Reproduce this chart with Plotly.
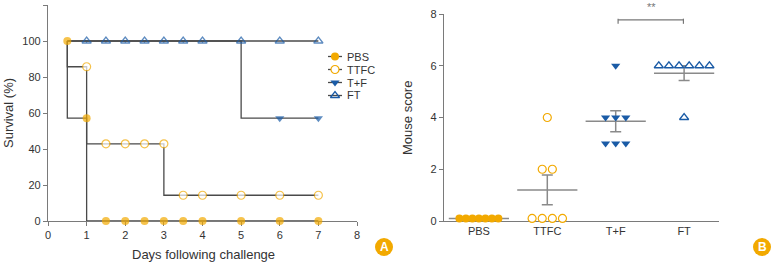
import numpy as np
import plotly.graph_objects as go

# ---------------- Panel A data: survival ----------------
days = [0.5, 1, 1.5, 2, 2.5, 3, 3.5, 4, 5, 6, 7]
surv_pbs = [100, 57.1, 0, 0, 0, 0, 0, 0, 0, 0, 0]
surv_ttfc = [100, 85.7, 42.9, 42.9, 42.9, 42.9, 14.3, 14.3, 14.3, 14.3, 14.3]
surv_tf = [100, 100, 100, 100, 100, 100, 100, 100, 100, 57.1, 57.1]
surv_ft = [100, 100, 100, 100, 100, 100, 100, 100, 100, 100, 100]
x_ticks_a = [0, 1, 2, 3, 4, 5, 6, 7, 8]
y_ticks_a = [0, 20, 40, 60, 80, 100, 120]

# ---------------- Panel B data: mouse scores ----------------
groups = ["PBS", "TTFC", "T+F", "FT"]
score_pbs = [0.1, 0.1, 0.1, 0.1, 0.1, 0.1, 0.1]
score_ttfc = [0.1, 0.1, 0.1, 0.1, 2, 2, 4]
score_tf = [6, 4, 4, 4, 3, 3, 3]
score_ft = [6, 6, 6, 6, 6, 6, 4]
y_ticks_b = [0, 2, 4, 6, 8]

ORANGE = "#F2A900"
BLUE = "#1A5BA6"
LINE = "#4a4a4a"
AXIS = "#7a7a7a"
TXT = "#333333"
FONT = "Liberation Sans"

W, H = 772, 263
def px_x(p):
    return p / W
def px_y(p):
    return 1 - p / H

MK = {
    "PBS": dict(symbol="circle", color=ORANGE, line=dict(width=0, color=ORANGE), size=8),
    "TTFC": dict(symbol="circle", color="white", line=dict(color=ORANGE, width=1.2), size=8),
    "T+F": dict(symbol="triangle-down", color=BLUE, line=dict(width=0, color=BLUE), size=8),
    "FT": dict(symbol="triangle-up", color="rgba(255,255,255,0)", line=dict(color=BLUE, width=1.3), size=8),
}

fig = go.Figure()

# ---- Panel A traces ----
series_a = [("T+F", surv_tf), ("FT", surv_ft), ("TTFC", surv_ttfc), ("PBS", surv_pbs)]
for name, vals in series_a:
    mk = dict(MK[name])
    sizes = [mk["size"]] * len(days)
    if name != "PBS":
        sizes[0] = 0
    if name == "T+F":
        sizes = [0 if i == 0 else (4 if surv_ft[i] == v else mk["size"])
                 for i, v in enumerate(vals)]
    mk["size"] = sizes
    fig.add_trace(go.Scatter(
        x=days, y=vals, name=name, mode="lines+markers",
        line=dict(color=LINE, width=1.3, shape="vh"),
        marker=mk, xaxis="x", yaxis="y", showlegend=False,
        cliponaxis=False,
    ))

# ---- custom legend (compact rows) ----
for i, name in enumerate(groups):
    fig.add_trace(go.Scatter(
        x=[0, 1], y=[i, i], mode="lines", line=dict(color=LINE, width=1.3),
        xaxis="x3", yaxis="y3", showlegend=False, hoverinfo="skip", cliponaxis=False))
    fig.add_trace(go.Scatter(
        x=[0.5], y=[i], mode="markers", marker=MK[name],
        xaxis="x3", yaxis="y3", showlegend=False, hoverinfo="skip", cliponaxis=False))
    fig.add_annotation(text=name, xref="paper", yref="paper",
                       x=px_x(345), y=px_y(56.5 + 13 * i), xanchor="left",
                       yanchor="middle", showarrow=False,
                       font=dict(family=FONT, size=11, color=TXT))

# ---- Panel B ----
def offsets(vals, spacing):
    vals = np.asarray(vals)
    out = np.zeros(len(vals))
    for v in np.unique(vals):
        idx = np.where(vals == v)[0]
        n = len(idx)
        out[idx] = (np.arange(n) - (n - 1) / 2) * spacing
    return out

series_b = [(score_pbs, "PBS", 0.095), (score_ttfc, "TTFC", 0.148),
            (score_tf, "T+F", 0.148), (score_ft, "FT", 0.148)]
for gi, (vals, name, sp) in enumerate(series_b):
    xs = gi + offsets(vals, sp)
    arr = np.asarray(vals, dtype=float)
    mean = arr.mean()
    sem = arr.std(ddof=1) / np.sqrt(len(arr))
    fig.add_trace(go.Scatter(
        x=[gi - 0.44, gi + 0.44], y=[mean, mean], mode="lines",
        line=dict(color="#8a8a8a", width=1.5), showlegend=False,
        xaxis="x2", yaxis="y2", hoverinfo="skip", cliponaxis=False))
    if sem > 0:
        fig.add_trace(go.Scatter(
            x=[gi], y=[mean], mode="markers",
            marker=dict(size=1, color="rgba(0,0,0,0)"),
            error_y=dict(type="constant", value=sem, color="#8a8a8a",
                         thickness=1.5, width=5.5),
            showlegend=False, xaxis="x2", yaxis="y2"))
    mk = dict(MK[name])
    if name == "FT":
        mk["color"] = "white"
    fig.add_trace(go.Scatter(
        x=xs, y=vals, mode="markers", marker=mk, showlegend=False,
        xaxis="x2", yaxis="y2", cliponaxis=False))

# significance bracket between T+F and FT
br_y = 7.77
fig.add_trace(go.Scatter(
    x=[2.035, 2.035, None, 2.035, 2.99, None, 2.99, 2.99],
    y=[br_y - 0.15, br_y + 0.05, None, br_y, br_y, None, br_y - 0.15, br_y + 0.05],
    mode="lines", line=dict(color="#777777", width=1.2),
    showlegend=False, xaxis="x2", yaxis="y2", cliponaxis=False))

ydom = [px_y(221), px_y(5)]
ydom2 = [px_y(221), px_y(14)]

axis_common = dict(showgrid=False, zeroline=False, showline=True,
                   linecolor=AXIS, linewidth=1.2, ticks="outside",
                   ticklen=4, tickcolor=AXIS, automargin=False,
                   layer="below traces",
                   tickfont=dict(family=FONT, size=11, color=TXT))
hidden = dict(visible=False, showgrid=False, zeroline=False, fixedrange=True)

fig.update_layout(
    width=W, height=H, template="none",
    margin=dict(l=0, r=0, t=0, b=0),
    paper_bgcolor="white", plot_bgcolor="rgba(0,0,0,0)",
    xaxis=dict(domain=[px_x(48), px_x(357)], range=[0, 8],
               tickvals=x_ticks_a, anchor="y", **axis_common),
    yaxis=dict(domain=ydom, range=[0, 120], tickvals=y_ticks_a,
               anchor="x", **axis_common),
    xaxis2=dict(domain=[px_x(444), px_x(719)], range=[-0.51, 3.51],
                tickvals=[0, 1, 2, 3], ticktext=groups, anchor="y2",
                **{**axis_common, "ticks": ""}),
    yaxis2=dict(domain=ydom2, range=[0, 8], tickvals=y_ticks_b,
                anchor="x2", **axis_common),
    xaxis3=dict(domain=[px_x(328), px_x(342)], range=[0, 1], anchor="y3", **hidden),
    yaxis3=dict(domain=[px_y(102), px_y(50)], range=[3.5, -0.5], anchor="x3", **hidden),
    showlegend=False,
)

annots = [
    dict(text="Days following challenge", x=px_x(203), y=px_y(254),
         font=dict(size=13)),
    dict(text="Survival (%)", x=px_x(8), y=px_y(113), textangle=-90,
         font=dict(size=13)),
    dict(text="Mouse score", x=px_x(407), y=px_y(118), textangle=-90,
         font=dict(size=13)),
    dict(text="**", x=px_x(651), y=px_y(7), font=dict(size=11, color="#777777")),
]
for a in annots:
    f = dict(family=FONT, color=TXT)
    f.update(a.pop("font"))
    fig.add_annotation(xref="paper", yref="paper", showarrow=False,
                       xanchor="center", yanchor="middle", font=f, **a)

for lab, cx in [("A", 384), ("B", 762)]:
    fig.add_shape(type="circle", xref="paper", yref="paper",
                  x0=px_x(cx - 9), x1=px_x(cx + 9),
                  y0=px_y(247 + 9), y1=px_y(247 - 9),
                  fillcolor=ORANGE, line=dict(width=0), layer="below")
    fig.add_annotation(text="<b>%s</b>" % lab, xref="paper", yref="paper",
                       x=px_x(cx), y=px_y(247), showarrow=False,
                       xanchor="center", yanchor="middle",
                       font=dict(family=FONT, size=12, color="white"))

fig.write_html("out.html", config={"displayModeBar": False},
               post_script="document.body.style.margin='0';")
